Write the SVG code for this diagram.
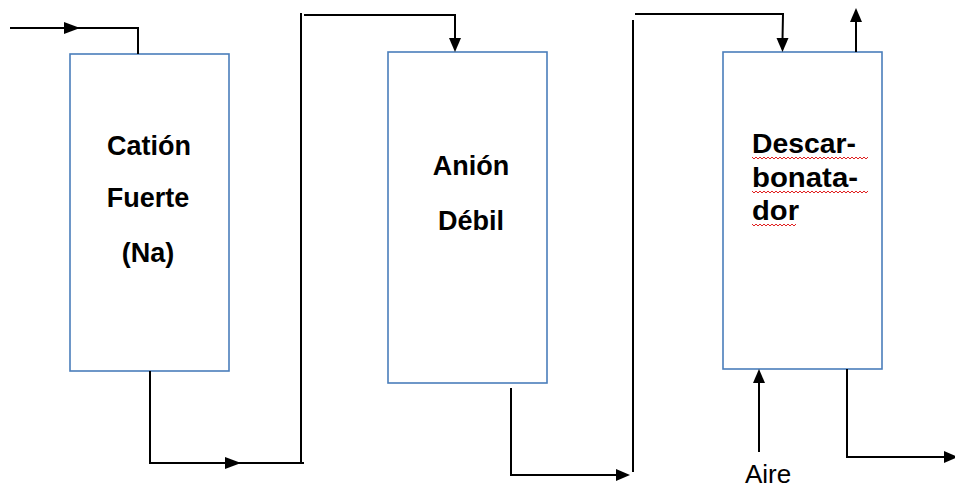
<svg xmlns="http://www.w3.org/2000/svg" width="955" height="489" viewBox="0 0 955 489">
  <style>
    .box { fill: #ffffff; stroke: #4a7ebb; stroke-width: 1.6; }
    .lbl { font-family: "Liberation Sans", Arial, sans-serif; font-weight: bold; font-size: 27px; fill: #000000; }
    .plain { font-family: "Liberation Sans", Arial, sans-serif; font-size: 26px; fill: #000000; }
    .pipe { fill: none; stroke: #000000; stroke-width: 2; }
    .head { fill: #000000; }
    .spell { fill: none; stroke: #e02020; stroke-width: 1; }
  </style>
  <rect width="955" height="489" fill="#ffffff"/>

  <g id="cation-fuerte">
    <rect class="box" x="70" y="54" width="159" height="317"/>
    <text class="lbl" x="149" y="155" text-anchor="middle">Catión</text>
    <text class="lbl" x="148" y="207" text-anchor="middle">Fuerte</text>
    <text class="lbl" x="148" y="262" text-anchor="middle">(Na)</text>
  </g>

  <g id="anion-debil">
    <rect class="box" x="388" y="52" width="159" height="331"/>
    <text class="lbl" x="471" y="175" text-anchor="middle">Anión</text>
    <text class="lbl" x="471" y="230" text-anchor="middle">Débil</text>
  </g>

  <g id="descarbonatador">
    <rect class="box" x="723" y="52" width="159" height="317"/>
    <text class="lbl" x="752" y="153" textLength="104" lengthAdjust="spacingAndGlyphs">Descar-</text>
    <text class="lbl" x="752" y="187" textLength="106" lengthAdjust="spacingAndGlyphs">bonata-</text>
    <text class="lbl" x="752" y="220" textLength="47" lengthAdjust="spacingAndGlyphs">dor</text>
    <!-- spell-check squiggles under the hyphenated word -->
    <path class="spell" d="M752 157 l2 2 l2 -2 l2 2 l2 -2 l2 2 l2 -2 l2 2 l2 -2 l2 2 l2 -2 l2 2 l2 -2 l2 2 l2 -2 l2 2 l2 -2 l2 2 l2 -2 l2 2 l2 -2 l2 2 l2 -2 l2 2 l2 -2 l2 2 l2 -2 l2 2 l2 -2 l2 2 l2 -2 l2 2 l2 -2 l2 2 l2 -2 l2 2 l2 -2 l2 2 l2 -2 l2 2 l2 -2 l2 2 l2 -2 l2 2 l2 -2 l2 2 l2 -2 l2 2 l2 -2 l2 2 l2 -2 l2 2 l2 -2 l2 2 l2 -2 l2 2 l2 -2 l2 2 l2 -2"/>
    <path class="spell" d="M752 191 l2 2 l2 -2 l2 2 l2 -2 l2 2 l2 -2 l2 2 l2 -2 l2 2 l2 -2 l2 2 l2 -2 l2 2 l2 -2 l2 2 l2 -2 l2 2 l2 -2 l2 2 l2 -2 l2 2 l2 -2 l2 2 l2 -2 l2 2 l2 -2 l2 2 l2 -2 l2 2 l2 -2 l2 2 l2 -2 l2 2 l2 -2 l2 2 l2 -2 l2 2 l2 -2 l2 2 l2 -2 l2 2 l2 -2 l2 2 l2 -2 l2 2 l2 -2 l2 2 l2 -2 l2 2 l2 -2 l2 2 l2 -2 l2 2 l2 -2 l2 2 l2 -2 l2 2 l2 -2"/>
    <path class="spell" d="M752 224 l2 2 l2 -2 l2 2 l2 -2 l2 2 l2 -2 l2 2 l2 -2 l2 2 l2 -2 l2 2 l2 -2 l2 2 l2 -2 l2 2 l2 -2 l2 2 l2 -2 l2 2 l2 -2 l2 2 l2 -2"/>
  </g>

  <g id="aire-label">
    <text class="plain" x="768" y="483" text-anchor="middle">Aire</text>
  </g>

  <g id="connectors">
    <!-- feed into the cation column -->
    <path class="pipe" d="M10 28 H138 V54"/>
    <path class="head" d="M80 28 L64 22 L64 34 Z"/>

    <!-- cation outlet to anion inlet -->
    <path class="pipe" d="M150 371 V463 H304"/>
    <path class="head" d="M241 463 L225 457 L225 469 Z"/>
    <path class="pipe" d="M301 463 V13"/>
    <path class="pipe" d="M304 15 H455 V40"/>
    <path class="head" d="M455 52 L449 38 L461 38 Z"/>

    <!-- anion outlet to descarbonatador inlet -->
    <path class="pipe" d="M511 388 V475 H618"/>
    <path class="head" d="M630 475 L616 469 L616 481 Z"/>
    <path class="pipe" d="M633 472 V20"/>
    <path class="pipe" d="M635 14 H783 L782.5 40"/>
    <path class="head" d="M782.5 52 L776.5 38 L788.5 38 Z"/>

    <!-- gas vent -->
    <path class="pipe" d="M856 52 V20"/>
    <path class="head" d="M856 8 L850 22 L862 22 Z"/>

    <!-- air inlet -->
    <path class="pipe" d="M759 452 V382"/>
    <path class="head" d="M759 369 L753 383 L765 383 Z"/>

    <!-- treated water outlet -->
    <path class="pipe" d="M847 369 V457 H950"/>
    <path class="head" d="M958 457 L944 451 L944 463 Z"/>
  </g>
</svg>
